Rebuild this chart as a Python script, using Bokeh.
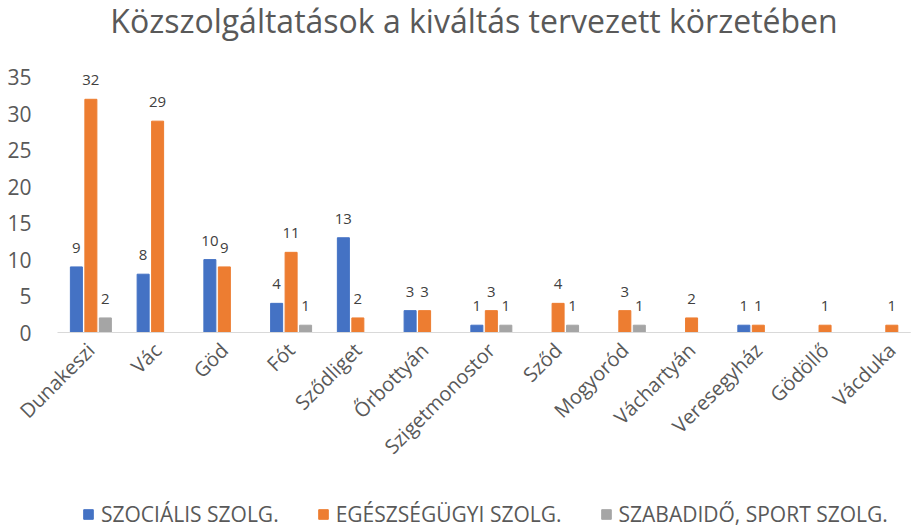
import math
from bokeh.plotting import figure
from bokeh.models import ColumnDataSource, Range1d, FixedTicker, Legend, LegendItem, Label
from bokeh.layouts import column
from bokeh.core.properties import value
from bokeh.embed import file_html
from bokeh.resources import INLINE

categories = ["Dunakeszi", "Vác", "Göd", "Fót", "Sződliget", "Őrbottyán", "Szigetmonostor",
              "Sződ", "Mogyoród", "Váchartyán", "Veresegyház", "Gödöllő", "Vácduka"]
szocialis = [9, 8, 10, 4, 13, 3, 1, 0, 0, 0, 1, 0, 0]
egeszsegugyi = [32, 29, 9, 11, 2, 3, 3, 4, 3, 2, 1, 1, 1]
szabadido = [2, 0, 0, 1, 0, 0, 1, 1, 1, 0, 0, 0, 0]
series_names = ["SZOCIÁLIS SZOLG.", "EGÉSZSÉGÜGYI SZOLG.", "SZABADIDŐ, SPORT SZOLG."]
y_ticks = [0, 5, 10, 15, 20, 25, 30, 35]
title_text = "Közszolgáltatások a kiváltás tervezett körzetében"

colors = ["#4472C4", "#ED7D31", "#A5A5A5"]
offsets = [-0.217, 0.0, 0.217]
FONT = "Open Sans"
LEFT, RIGHT = 57, 8
FW = 853
TITLE_H = 44
LEG_H = 30
TOTAL_H = 530
TOP_B = 22
FH = 266


def strip(h):
    f = figure(frame_width=FW, height=h, output_backend="svg", toolbar_location=None,
               x_axis_location=None, y_axis_location=None, title=None,
               min_border=0, min_border_left=LEFT, min_border_right=RIGHT,
               x_range=Range1d(LEFT, LEFT + FW), y_range=Range1d(0, h))
    f.outline_line_color = None
    f.grid.visible = False
    return f


# title strip
tp = strip(TITLE_H)
tp.add_layout(Label(x=473.5, y=TITLE_H - 20, text=title_text, text_align="center",
                    text_baseline="alphabetic", text_font=FONT, text_font_size="32px",
                    text_color="#595959"))

# main chart
p = figure(frame_width=FW, frame_height=FH, output_backend="svg", toolbar_location=None,
           x_range=Range1d(-0.5, 12.28), y_range=Range1d(0, 36.5), title=None,
           min_border_left=LEFT, min_border_right=RIGHT, min_border_top=TOP_B,
           min_border_bottom=TOTAL_H - TITLE_H - LEG_H - TOP_B - FH)
p.outline_line_color = None
p.grid.visible = False

for vals, col, off in zip([szocialis, egeszsegugyi, szabadido], colors, offsets):
    xs = [i + off for i in range(len(categories))]
    src = ColumnDataSource(dict(x=xs, top=vals))
    p.vbar(x="x", top="top", width=0.18, bottom=0, source=src,
           fill_color=col, line_color=col)
    lx = [x for x, v in zip(xs, vals) if v > 0]
    lv = [v for v in vals if v > 0]
    lsrc = ColumnDataSource(dict(x=lx, y=lv, t=[str(v) for v in lv]))
    p.text(x="x", y="y", text="t", source=lsrc, text_align="center",
           text_baseline="bottom", y_offset=-14, text_font=value(FONT),
           text_font_size="15px", text_color="#404040")

p.xaxis.ticker = FixedTicker(ticks=list(range(len(categories))))
p.xaxis.major_label_overrides = {i: c for i, c in enumerate(categories)}
p.xaxis.major_label_orientation = math.pi / 4
p.xaxis.major_tick_line_color = None
p.xaxis.minor_tick_line_color = None
p.xaxis.axis_line_color = "#D9D9D9"
p.xaxis.axis_line_width = 1
p.xaxis.major_label_text_font = FONT
p.xaxis.major_label_text_font_size = "20px"
p.xaxis.major_label_text_color = "#595959"
p.xaxis.major_label_standoff = 8

p.yaxis.ticker = FixedTicker(ticks=y_ticks)
p.yaxis.major_tick_line_color = None
p.yaxis.minor_tick_line_color = None
p.yaxis.axis_line_color = None
p.yaxis.major_label_text_font = FONT
p.yaxis.major_label_text_font_size = "21px"
p.yaxis.major_label_text_color = "#595959"
p.yaxis.major_label_standoff = 20

# legend strip (swatch renderers placed far outside the visible ranges)
lg = strip(LEG_H)
lg_renderers = []
for col in colors:
    lr = lg.vbar(x=[-5000], top=[-5000], bottom=[-5001], width=1,
                 fill_color=col, line_color=col)
    lg_renderers.append(lr)
legend = Legend(items=[LegendItem(label=n, renderers=[r]) for n, r in zip(series_names, lg_renderers)],
                orientation="horizontal", location=(25, 2),
                label_text_font=FONT, label_text_font_size="21px",
                label_text_color="#595959", glyph_width=12, glyph_height=12,
                spacing=38, border_line_color=None, background_fill_alpha=0,
                margin=0, padding=0, label_standoff=7, label_height=20)
lg.add_layout(legend)

layout = column(tp, p, lg, spacing=0)
open("out.html", "w").write(file_html(layout, INLINE))
